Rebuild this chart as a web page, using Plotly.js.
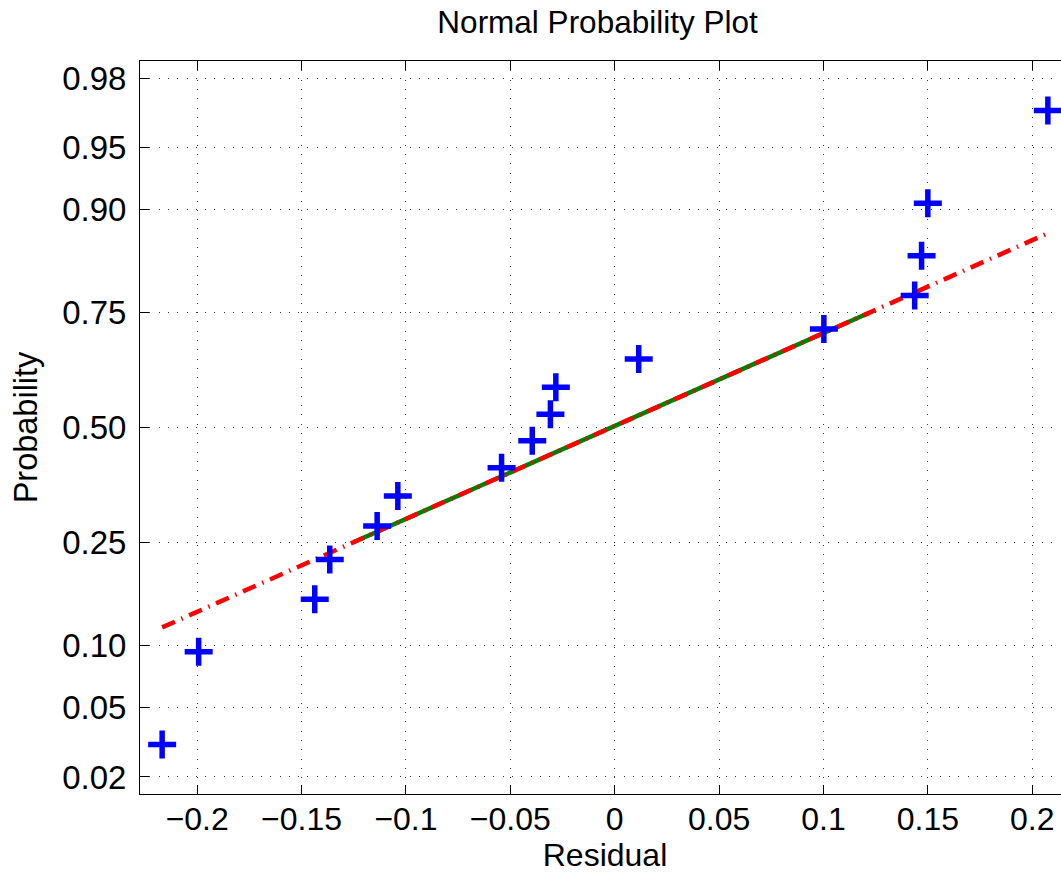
<!DOCTYPE html>
<html>
<head>
<meta charset="utf-8">
<script src="https://cdn.plot.ly/plotly-3.0.1.min.js"></script>
<style>
html, body { margin: 0; padding: 0; overflow: hidden; background: #fff; }
#chart { width: 1080px; height: 873px; }
</style>
</head>
<body>
<div id="chart"></div>
<script>
// Residuals (sorted)
const residual = [-0.2168, -0.1993, -0.1437, -0.1365, -0.1138, -0.1039, -0.0542, -0.0395,
                  -0.0308, -0.0282, 0.0115, 0.1002, 0.1437, 0.1470, 0.1500, 0.2075];
// Plotting positions (probability) for each residual
const probability = [0.03125, 0.09375, 0.15625, 0.21875, 0.28125, 0.34375, 0.40625, 0.46875,
                     0.53125, 0.59375, 0.65625, 0.71875, 0.78125, 0.84375, 0.90625, 0.96875];
// Axis ticks
const probTicks = [0.02, 0.05, 0.10, 0.25, 0.50, 0.75, 0.90, 0.95, 0.98];
const probTickLabels = ['0.02', '0.05', '0.10', '0.25', '0.50', '0.75', '0.90', '0.95', '0.98'];
const xTicks = [-0.2, -0.15, -0.1, -0.05, 0, 0.05, 0.1, 0.15, 0.2];
const xTickLabels = ['\u22120.2', '\u22120.15', '\u22120.1', '\u22120.05', '0', '0.05', '0.1', '0.15', '0.2'];

// Inverse standard normal CDF (Acklam)
function norminv(p) {
  const a = [-3.969683028665376e+01, 2.209460984245205e+02, -2.759285104469687e+02,
             1.383577518672690e+02, -3.066479806614716e+01, 2.506628277459239e+00];
  const b = [-5.447609879822406e+01, 1.615858368580409e+02, -1.556989798598866e+02,
             6.680131188771972e+01, -1.328068155288572e+01];
  const c = [-7.784894002430293e-03, -3.223964580411365e-01, -2.400758277161838e+00,
             -2.549732539343734e+00, 4.374664141464968e+00, 2.938163982698783e+00];
  const d = [7.784695709041462e-03, 3.224671290700398e-01, 2.445134137142996e+00,
             3.754408661907416e+00];
  const pl = 0.02425, ph = 1 - pl;
  let q, r;
  if (p < pl) {
    q = Math.sqrt(-2 * Math.log(p));
    return (((((c[0]*q+c[1])*q+c[2])*q+c[3])*q+c[4])*q+c[5]) / ((((d[0]*q+d[1])*q+d[2])*q+d[3])*q+1);
  } else if (p <= ph) {
    q = p - 0.5; r = q * q;
    return (((((a[0]*r+a[1])*r+a[2])*r+a[3])*r+a[4])*r+a[5])*q / (((((b[0]*r+b[1])*r+b[2])*r+b[3])*r+b[4])*r+1);
  } else {
    q = Math.sqrt(-2 * Math.log(1 - p));
    return -(((((c[0]*q+c[1])*q+c[2])*q+c[3])*q+c[4])*q+c[5]) / ((((d[0]*q+d[1])*q+d[2])*q+d[3])*q+1);
  }
}

// MATLAB-style percentile
function prctile(arr, pct) {
  const s = arr.slice().sort((u, v) => u - v);
  const n = s.length;
  const pos = n * pct / 100 + 0.5; // 1-based
  if (pos <= 1) return s[0];
  if (pos >= n) return s[n - 1];
  const i = Math.floor(pos), f = pos - i;
  return s[i - 1] + f * (s[i] - s[i - 1]);
}

const zData = probability.map(norminv);
const q1 = prctile(residual, 25), q3 = prctile(residual, 75);
const z1 = norminv(0.25), z3 = norminv(0.75);
const slope = (z3 - z1) / (q3 - q1);
const xmin = Math.min(...residual), xmax = Math.max(...residual);
const lineZ = x => z1 + (x - q1) * slope;

const span = xmax - xmin;
const xRange = [xmin - 0.025 * span, xmax + 0.025 * span];
const zLim = norminv(0.25 / residual.length);

const FONT = 'Liberation Sans, Arial, sans-serif';

const traces = [
  {
    x: [q1, q3], y: [z1, z3], mode: 'lines', type: 'scatter',
    line: { color: '#008000', width: 4.5 }, hoverinfo: 'skip'
  },
  {
    x: [xmin, xmax], y: [lineZ(xmin), lineZ(xmax)], mode: 'lines', type: 'scatter',
    line: { color: '#ff0000', width: 4.5, dash: '14px,7px,1.5px,7px' }, hoverinfo: 'skip'
  },
  {
    x: residual, y: zData, mode: 'markers', type: 'scatter',
    marker: { symbol: 'cross-thin', size: 20, color: '#0000ff', line: { color: '#0000ff', width: 5.5 } }
  }
];

const axisCommon = {
  showline: true, linecolor: '#000', linewidth: 1, mirror: 'ticks',
  ticks: 'inside', ticklen: 9, tickwidth: 1, tickcolor: '#000',
  showgrid: true, gridcolor: '#333', gridwidth: 1, griddash: '1px,8.3px',
  zeroline: false,
  tickfont: { family: FONT, size: 33, color: '#000' }
};

const layout = {
  width: 1080, height: 873,
  margin: { l: 140, r: 10, t: 61, b: 79 },
  paper_bgcolor: '#fff', plot_bgcolor: '#fff',
  showlegend: false,
  title: {
    text: 'Normal Probability Plot',
    font: { family: FONT, size: 31.5, color: '#000' },
    x: 0.492, xref: 'paper', xanchor: 'center', y: 0.975, yref: 'container', yanchor: 'middle'
  },
  xaxis: Object.assign({}, axisCommon, {
    range: xRange, tickvals: xTicks, ticktext: xTickLabels,
    tickfont: { family: FONT, size: 32, color: '#000' },
    ticklabelstandoff: -3,
    title: { text: 'Residual', standoff: 0,
      font: { family: FONT, size: 32, color: '#000' } }
  }),
  yaxis: Object.assign({}, axisCommon, {
    range: [zLim, -zLim], tickvals: probTicks.map(norminv), ticktext: probTickLabels,
    ticklabelstandoff: 6,
    title: { text: 'Probability', standoff: 14,
      font: { family: FONT, size: 32.5, color: '#000' } }
  })
};

Plotly.newPlot('chart', traces, layout, { displayModeBar: false, staticPlot: true });
</script>
</body>
</html>
